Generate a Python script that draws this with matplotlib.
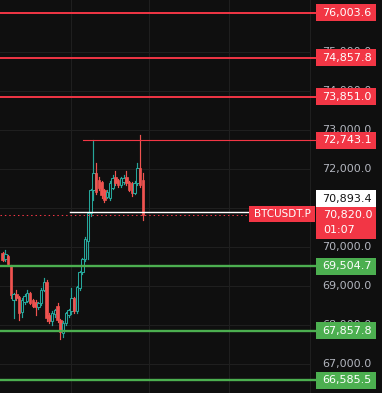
import matplotlib
matplotlib.use('Agg')
import matplotlib.pyplot as plt
import matplotlib.transforms as mtransforms
from matplotlib.patches import Rectangle

#-------------- Data ---------------------------------------------------------------

opens  = [69846, 69680, 69770, 69510, 68640, 68800, 68720, 68330, 68600, 68620,
          68810, 68640, 68600, 68470, 68560, 68900, 69100, 68250, 68100, 68280,
          68500, 68120, 67790, 68050, 68250, 68350, 68700, 68360, 68950, 69350,
          69700, 70150, 70870, 71460, 71900, 71720, 71670, 71460, 71280, 71250,
          71510, 71800, 71720, 71590, 71660, 71800, 71670, 71640, 71380, 71640,
          72030, 71720]
highs  = [69870, 69920, 69800, 69530, 68830, 68900, 68740, 68700, 68800, 68900,
          68840, 68660, 68630, 68600, 68950, 69210, 69150, 68300, 68350, 68420,
          68560, 68150, 68100, 68330, 68420, 68950, 68720, 69000, 69380, 69720,
          70250, 70900, 71500, 72743.1, 72150, 71800, 71700, 71480, 71450, 71680,
          71850, 71950, 71750, 71800, 71850, 71950, 71700, 71660, 71700, 72150,
          72870, 71900]
lows   = [69640, 69650, 69540, 68700, 68180, 68650, 68140, 68200, 68550, 68580,
          68540, 68450, 68260, 68420, 68520, 68860, 68100, 68050, 68000, 68200,
          68080, 67650, 67690, 68000, 68200, 68280, 68300, 68300, 68900, 69300,
          69650, 69700, 70800, 71200, 71350, 71450, 71250, 71150, 71250, 71200,
          71480, 71600, 71550, 71550, 71620, 71600, 71430, 71300, 71350, 71600,
          71550, 70690]
closes = [69667, 69830, 69560, 68770, 68800, 68690, 68300, 68640, 68750, 68820,
          68570, 68500, 68450, 68560, 68900, 69100, 68170, 68100, 68300, 68380,
          68120, 67810, 68060, 68300, 68380, 68700, 68360, 68970, 69350, 69700,
          70200, 70870, 71460, 71900, 71410, 71510, 71330, 71200, 71410, 71640,
          71770, 71640, 71590, 71770, 71770, 71640, 71460, 71380, 71640, 72030,
          71590, 70820]

resistance_levels = [76003.6, 74857.8, 73851.0]
recent_high = 72743.1
support_levels = [69504.7, 67857.8, 66585.5]
bid_price = 70893.4
last_price = 70820.0
countdown = '01:07'
symbol = 'BTCUSDT.P'
grid_prices = [67000, 68000, 69000, 70000, 71000, 72000, 73000, 74000, 75000, 76000]
tick_labels = [67000, 68000, 69000, 70000, 72000, 73000, 74000, 75000]

#-------------- Style --------------------------------------------------------------

BG = '#0f0f0f'
GRID = '#1f1f1f'
UP = '#26a69a'
DOWN = '#ef5350'
RED = '#f23645'
GREEN = '#4caf50'
TICK = '#b2b5be'

W, H = 382, 393
STEP = 2.75           # pixels per bar
X0 = 2.5              # pixel centre of first bar
PPX = 1000 / 39.0     # price per pixel
Y_TOP = 72000 + 169 * PPX

def bx(px):
    return (px - X0) / STEP

def fx(px):
    return px / W

fig = plt.figure(figsize=(W / 100, H / 100), dpi=100, facecolor=BG)
ax = fig.add_axes([0, 0, 1, 1], facecolor=BG)
ax.set_xlim(bx(0), bx(W))
ax.set_ylim(Y_TOP - H * PPX, Y_TOP)
ax.axis('off')

blend = mtransforms.blended_transform_factory(ax.transAxes, ax.transData)

#-------------- Grid ---------------------------------------------------------------

for p in grid_prices:
    ax.plot([bx(0), bx(310)], [p, p], color=GRID, lw=0.8, zorder=1)
for px in [71, 149, 229, 310]:
    ax.axvline(bx(px), color=GRID, lw=0.8, zorder=1)

#-------------- Candles ------------------------------------------------------------

bw = 2.5 / STEP
for i, (o, h, l, c) in enumerate(zip(opens, highs, lows, closes)):
    up = c >= o
    col = UP if up else DOWN
    ax.plot([i, i], [l, h], color=col, lw=0.85, zorder=2)
    bottom = min(o, c)
    height = max(abs(c - o), PPX * 0.8)
    if up:
        ax.add_patch(Rectangle((i - bw / 2, bottom), bw, height, facecolor=BG,
                               edgecolor=col, lw=0.75, zorder=3))
    else:
        ax.add_patch(Rectangle((i - bw / 2, bottom), bw, height, facecolor=col,
                               edgecolor=col, lw=0.5, zorder=3))

#-------------- Price scale labels -------------------------------------------------

for p in tick_labels:
    ax.text(fx(347), p, f'{p:,.1f}', transform=blend, ha='center', va='center',
            color=TICK, fontsize=8, zorder=4)

def tag(price, face, text_color='white', center=None):
    yc = price if center is None else center
    ax.add_patch(Rectangle((fx(316), yc - 8.5 * PPX), fx(60), 17 * PPX,
                           transform=blend, facecolor=face, edgecolor='none', zorder=6))
    ax.text(fx(347), yc, f'{price:,.1f}', transform=blend, ha='center', va='center',
            color=text_color, fontsize=8, zorder=7)

#-------------- Levels -------------------------------------------------------------

for p in resistance_levels:
    ax.plot([bx(0), bx(316)], [p, p], color=RED, lw=1.4, zorder=5)
    tag(p, RED)

ax.plot([bx(83), bx(316)], [recent_high, recent_high], color=RED, lw=0.8, zorder=5)
tag(recent_high, RED)

for p in support_levels:
    ax.plot([bx(0), bx(316)], [p, p], color=GREEN, lw=1.7, zorder=5)
    tag(p, GREEN)

# bid line and last price line
ax.plot([bx(70), bx(249)], [bid_price, bid_price], color='white', lw=1.0, zorder=5)
ax.plot([bx(0), bx(249)], [last_price, last_price], color=RED, lw=0.75,
        linestyle=(0, (1.4, 2.8)), zorder=5)

tag(bid_price, 'white', text_color='#131313', center=bid_price + 13.5 * PPX)

# last price box with countdown
yl = last_price + 1 * PPX
ax.add_patch(Rectangle((fx(316), yl - 25 * PPX), fx(60), 32 * PPX, transform=blend,
                       facecolor=RED, edgecolor='none', zorder=6))
ax.text(fx(323), yl - 1 * PPX, f'{last_price:,.1f}', transform=blend, ha='left',
        va='center', color='white', fontsize=8, zorder=7)
ax.text(fx(323), yl - 16 * PPX, countdown, transform=blend, ha='left',
        va='center', color='white', fontsize=8, zorder=7)

# symbol tag
ax.add_patch(Rectangle((fx(249), yl - 8 * PPX), fx(66), 16 * PPX, transform=blend,
                       facecolor=RED, edgecolor='none', zorder=6))
ax.text(fx(282), yl, symbol, transform=blend, ha='center', va='center',
        color='white', fontsize=7.5, zorder=7)

fig.savefig('out.png', dpi=100, facecolor=BG)
